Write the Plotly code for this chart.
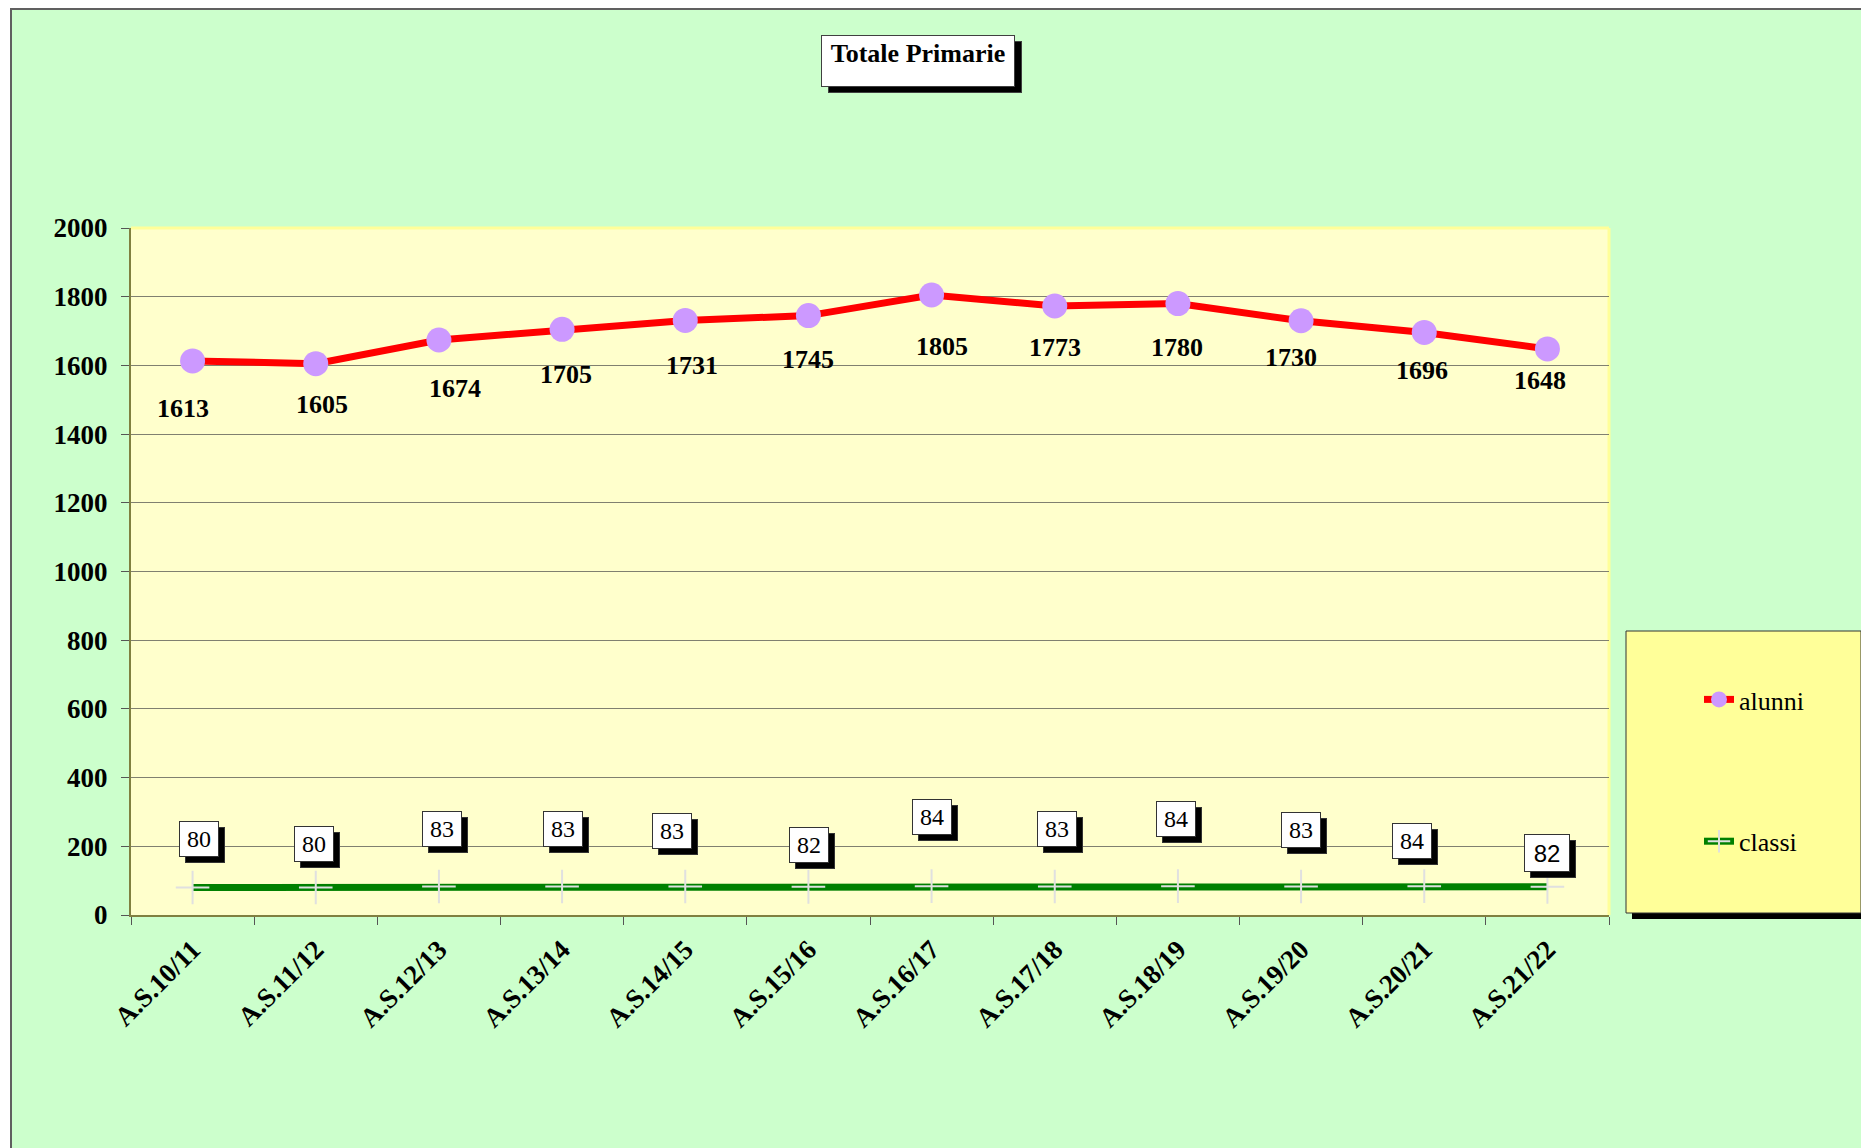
import plotly.graph_objects as go

categories = ["A.S.10/11", "A.S.11/12", "A.S.12/13", "A.S.13/14", "A.S.14/15", "A.S.15/16",
              "A.S.16/17", "A.S.17/18", "A.S.18/19", "A.S.19/20", "A.S.20/21", "A.S.21/22"]
alunni = [1613, 1605, 1674, 1705, 1731, 1745, 1805, 1773, 1780, 1730, 1696, 1648]
classi = [80, 80, 83, 83, 83, 82, 84, 83, 84, 83, 84, 82]
y_ticks = [0, 200, 400, 600, 800, 1000, 1200, 1400, 1600, 1800, 2000]

# label placement offsets in pixels (style only)
alunni_dx = [-10, 6, 16, 4, 7, 0, 10, 0, -1, -10, -2, -7]
alunni_dy = [-48, -41, -49, -45, -45, -44, -52, -42, -44, -37, -38, -32]
classi_dx = [6, -2, 3, 1, -13, 1, 0, 2, -2, 0, -12, 0]
classi_dy = [49, 44, 57, 57, 55, 42, 69, 57, 67, 56, 45, 34]

OFF = 8  # page body margin
W, H = 1869, 1148
L, T = 131 - OFF, 228 - OFF
PW, PH = 1478, 687
R, B = W - L - PW, H - T - PH


def px(x):
    """page pixel x -> paper coordinate"""
    return (x - OFF - L) / PW


def py(y):
    """page pixel y -> paper coordinate"""
    return (T + PH - (y - OFF)) / PH


SERIF = "Liberation Serif, DejaVu Serif, serif"
SANS = "Liberation Sans, Arial, sans-serif"

fig = go.Figure()
fig.add_trace(go.Scatter(
    x=categories, y=alunni, name="alunni", mode="lines+markers", legendgroup="a",
    line=dict(color="#FF0000", width=7),
    marker=dict(symbol="circle", size=25, color="#CC99FF", line=dict(width=0)),
))
fig.add_trace(go.Scatter(
    x=categories, y=classi, name="classi", mode="lines+markers", legendgroup="b",
    line=dict(color="#008000", width=7),
    marker=dict(symbol="cross-thin", size=24, color="#E0E0E0",
                line=dict(color="#E0E0E0", width=2)),
))

shapes = [
    # chart area background with border
    dict(type="rect", xref="paper", yref="paper", x0=px(11), x1=px(1900), y0=py(9), y1=py(1180),
         fillcolor="#CCFFCC", line=dict(color="#606060", width=2), layer="below"),
    # plot area
    dict(type="rect", xref="paper", yref="paper", x0=0, x1=1, y0=0, y1=1,
         fillcolor="#FFFFCC", line=dict(width=0), layer="below"),
    dict(type="line", xref="paper", yref="paper", x0=0, x1=1, y0=1, y1=1,
         line=dict(color="#FFFF99", width=3), layer="below"),
    dict(type="line", xref="paper", yref="paper", x0=1, x1=1, y0=0, y1=1,
         line=dict(color="#FFFF99", width=3), layer="below"),
    # legend box shadow and box
    dict(type="rect", xref="paper", yref="paper", x0=px(1632), x1=px(1867), y0=py(637), y1=py(919),
         fillcolor="#000000", line=dict(width=0), layer="below"),
    dict(type="rect", xref="paper", yref="paper", x0=px(1626), x1=px(1861), y0=py(631), y1=py(913),
         fillcolor="#FFFF99", line=dict(color="#333333", width=1), layer="below"),
]

annotations = []
# title with shadow (shadow is an empty box)
for dx, dy, bg, txt in [(7, -6, "#000000", " "), (0, 0, "#FFFFFF", "Totale Primarie")]:
    annotations.append(dict(
        text=txt, xref="paper", yref="paper", x=px(917.5), y=py(61),
        xanchor="center", yanchor="middle", showarrow=False, xshift=dx, yshift=dy,
        width=186, height=44, borderpad=3, valign="top",
        bgcolor=bg, bordercolor="#404040", borderwidth=1,
        font=dict(family=SERIF, size=26, color="#000000", weight="bold"),
    ))

# alunni data labels
for c, v, dx, dy in zip(categories, alunni, alunni_dx, alunni_dy):
    annotations.append(dict(
        text=str(v), x=c, y=v, xref="x", yref="y", showarrow=False,
        xshift=dx, yshift=dy, xanchor="center", yanchor="middle",
        font=dict(family=SERIF, size=26, color="#000000", weight="bold"),
    ))

# classi data labels (boxed, with shadow)
n = len(categories)
for i, (c, v, dx, dy) in enumerate(zip(categories, classi, classi_dx, classi_dy)):
    last = i == n - 1
    fam = SANS if last else SERIF
    w, h = (36, 28) if last else (30, 26)
    for sx, sy, bg, txt in [(6, -6, "#000000", " "), (0, 0, "#FFFFFF", str(v))]:
        annotations.append(dict(
            text=txt, x=c, y=v, xref="x", yref="y", showarrow=False,
            xshift=dx + sx, yshift=dy + sy, xanchor="center", yanchor="middle",
            width=w, height=h, borderpad=4, bgcolor=bg,
            bordercolor="#333333", borderwidth=1,
            font=dict(family=fam, size=24, color="#000000"),
        ))

fig.update_layout(
    width=W, height=H,
    margin=dict(l=L, r=R, t=T, b=B, autoexpand=False),
    paper_bgcolor="#FFFFFF",
    plot_bgcolor="rgba(0,0,0,0)",
    showlegend=True,
    legend=dict(
        x=px(1699), xanchor="left", y=py(676), yanchor="top",
        bgcolor="rgba(0,0,0,0)", borderwidth=0,
        traceorder="grouped", tracegroupgap=105,
        font=dict(family=SERIF, size=26, color="#000000"),
        itemsizing="trace",
    ),
    xaxis=dict(
        type="category", categoryorder="array", categoryarray=categories,
        range=[-0.5, len(categories) - 0.5], autorange=False,
        tickangle=-45, tickson="boundaries", ticks="outside", ticklen=8, tickcolor="#555555",
        showline=True, linecolor="#808040", linewidth=2, showgrid=False,
        ticklabelstandoff=6,
        tickfont=dict(family=SERIF, size=27, color="#000000", weight="bold"),
    ),
    yaxis=dict(
        range=[0, 2000], autorange=False, tickmode="array", tickvals=y_ticks,
        ticks="outside", ticklen=8, tickcolor="#555555",
        showline=True, linecolor="#808040", linewidth=2,
        showgrid=True, gridcolor="#808070", gridwidth=1, zeroline=False,
        ticklabelstandoff=8,
        tickfont=dict(family=SERIF, size=27, color="#000000", weight="bold"),
    ),
    shapes=shapes,
    annotations=annotations,
)

fig.write_html("out.html")
